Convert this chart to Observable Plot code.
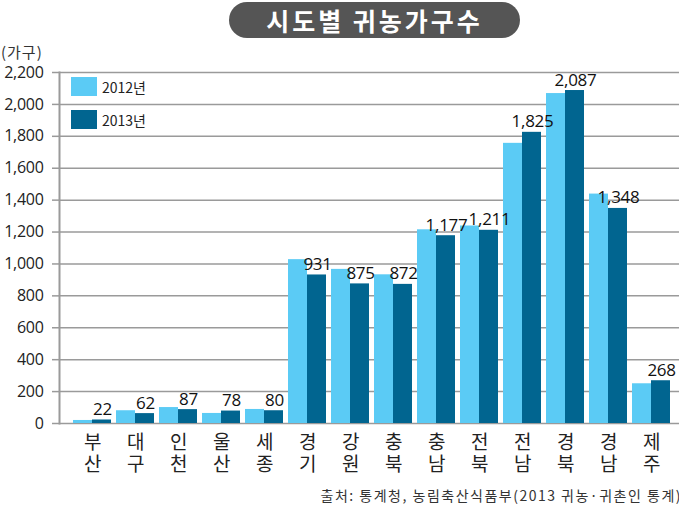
<!DOCTYPE html>
<html>
<head>
<meta charset="utf-8">
<script src="https://cdn.jsdelivr.net/npm/d3@7"></script>
<script src="https://cdn.jsdelivr.net/npm/@observablehq/plot@0.6"></script>
<style>
  html, body { margin: 0; padding: 0; background: #fff; }
  #wrap { position: relative; width: 679px; height: 506px; overflow: hidden; font-family: "Noto Sans CJK KR", "Open Sans", sans-serif; }
  #chart { position: absolute; left: 0; top: 0; }
  #chart svg { font-family: "Open Sans", "Noto Sans CJK KR", sans-serif; }
  #chart svg text { letter-spacing: -0.3px; }
  #title { position: absolute; left: 229px; top: 2px; width: 291px; height: 36px; border-radius: 18px; background: #555; color: #fff;
           font-size: 25px; font-weight: 700; line-height: 36px; text-align: center; letter-spacing: 3px; }
  #unit { position: absolute; left: 1px; top: 41px; font-size: 15px; color: #333; letter-spacing: 1px; }
  #legend { position: absolute; left: 71px; top: 77px; }
  .item { display: flex; align-items: center; height: 19px; margin-bottom: 14px; }
  .sw { width: 26px; height: 19px; margin-right: 5px; }
  .lab { font-size: 14px; color: #222; }
  #source { position: absolute; right: -3px; top: 485px; font-size: 14px; color: #333; letter-spacing: 1.5px; white-space: nowrap; }
</style>
</head>
<body>
<div id="wrap">
  <div id="chart"></div>
  <div id="title"></div>
  <div id="unit"></div>
  <div id="legend"></div>
  <div id="source"></div>
</div>
<script>
const titleText = "시도별 귀농가구수";
const unitText = "(가구)";
const sourceText = "출처: 통계청, 농림축산식품부(2013 귀농·귀촌인 통계)";
const regions = ["부산","대구","인천","울산","세종","경기","강원","충북","충남","전북","전남","경북","경남","제주"];
const years = ["2012년", "2013년"];
const colors = ["#5bcbf5", "#016590"];
const v2012 = [19, 80, 100, 63, 88, 1027, 966, 932, 1214, 1238, 1756, 2068, 1438, 249];
const v2013 = [22, 62, 87, 78, 80, 931, 875, 872, 1177, 1211, 1825, 2087, 1348, 268];
const yTicks = [0, 200, 400, 600, 800, 1000, 1200, 1400, 1600, 1800, 2000, 2200];

const d12 = regions.map((r, i) => ({region: r, value: v2012[i]}));
const d13 = regions.map((r, i) => ({region: r, value: v2013[i]}));
const fmt = d3.format(",");

const plot = Plot.plot({
  width: 679,
  height: 506,
  marginTop: 72,
  marginBottom: 83,
  marginLeft: 59,
  marginRight: 0,
  x: {domain: regions, paddingInner: 0.125, paddingOuter: 0.196, align: 0.59, axis: null, label: null},
  y: {domain: [0, 2200], axis: null, label: null},
  marks: [
    Plot.gridY(yTicks, {stroke: "#9a9a9a", strokeOpacity: 1, strokeWidth: 1.5}),
    Plot.axisY(yTicks, {label: null, tickSize: 7, tickPadding: 9, tickFormat: fmt, fontSize: 16, stroke: "#9a9a9a", strokeWidth: 1.5, fill: "#222"}),
    Plot.barY(d12, {x: "region", y: "value", fill: colors[0], insetRight: 19}),
    Plot.barY(d13, {x: "region", y: "value", fill: colors[1], insetLeft: 19}),
    Plot.text(d13, {x: "region", y: "value", text: d => fmt(d.value), dx: 10, dy: -5, lineAnchor: "bottom", fontSize: 17, fill: "#111"}),
    Plot.axisX({label: null, tickSize: 0, tickPadding: 10, tickFormat: d => d[0] + "\n" + d[1], fontSize: 19, lineHeight: 1.15, fill: "#222", fontFamily: "Noto Sans CJK KR"}),
    Plot.frame({anchor: "left", stroke: "#9a9a9a", strokeWidth: 2})
  ]
});
document.getElementById("chart").appendChild(plot);
document.getElementById("title").textContent = titleText;
document.getElementById("unit").textContent = unitText;
document.getElementById("source").textContent = sourceText;
const lg = document.getElementById("legend");
years.forEach((y, i) => {
  const it = document.createElement("div");
  it.className = "item";
  const sw = document.createElement("div");
  sw.className = "sw";
  sw.style.background = colors[i];
  const lb = document.createElement("span");
  lb.className = "lab";
  lb.textContent = y;
  it.appendChild(sw); it.appendChild(lb);
  lg.appendChild(it);
});
</script>
</body>
</html>
